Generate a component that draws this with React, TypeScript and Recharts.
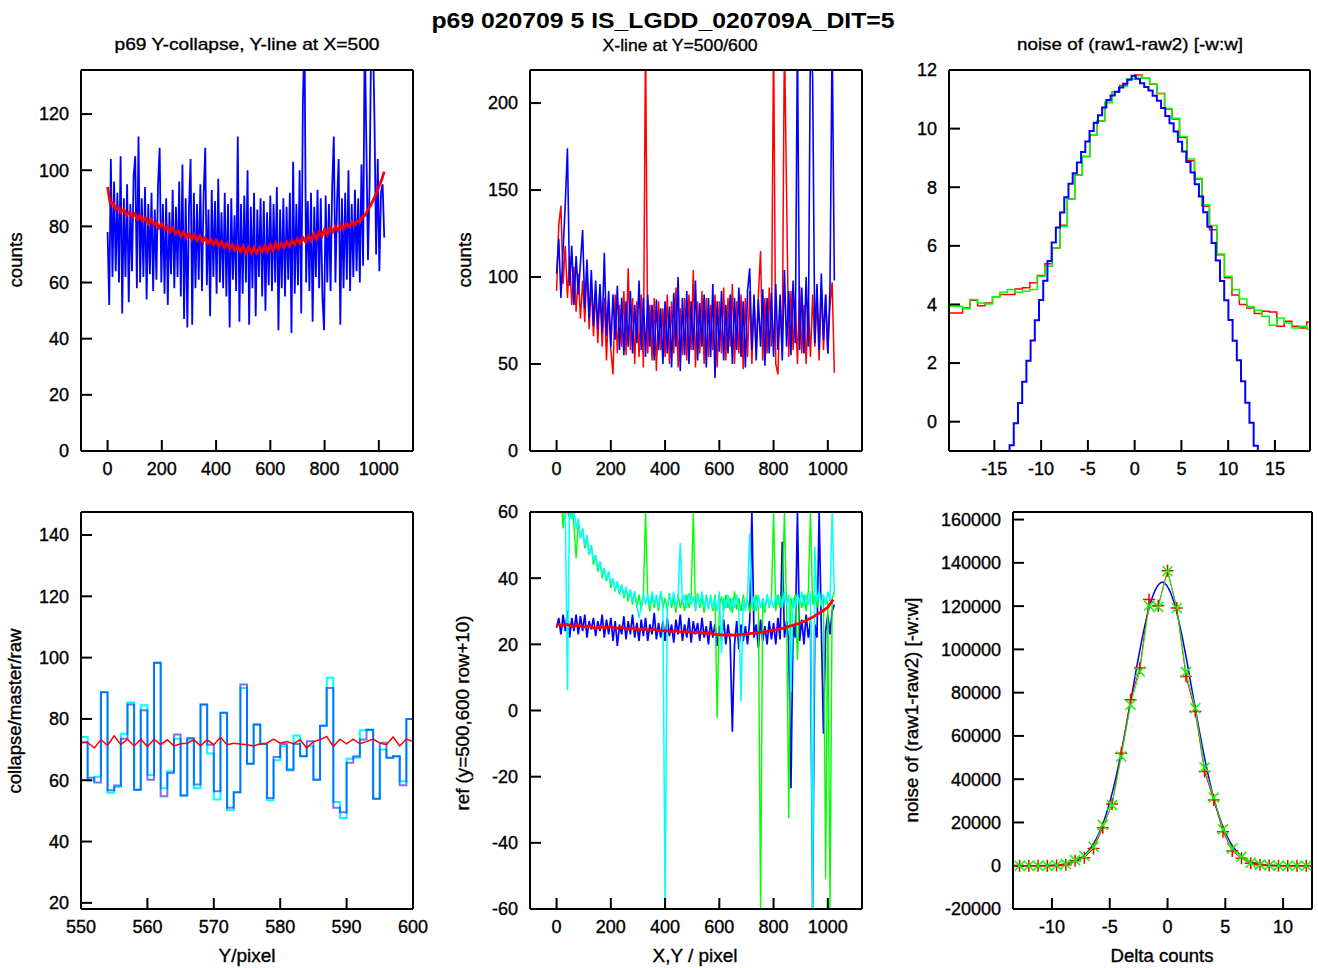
import React from "react";
import { LineChart, Line, XAxis, YAxis } from "recharts";

const FONT = '"Liberation Sans", Arial, Helvetica, sans-serif';
const RED = "#ff0000";
const GREEN = "#00ff00";
const BLUE = "#0000ff";
const CYAN = "#00ffff";

// ---- top left: Y-line at X=500 (blue, every 6th pixel) + collapse (red, every 10th) ----
const p1BlueStep = 6;
const p1Blue = [
  78, 52, 104, 62, 96, 64, 92, 60, 105, 49,
  90, 62, 95, 53, 88, 64, 98, 105, 58, 112,
  60, 90, 62, 94, 54, 88, 63, 92, 57, 86,
  61, 95, 108, 60, 88, 56, 90, 52, 85, 63,
  93, 58, 87, 62, 96, 55, 102, 47, 90, 44,
  86, 104, 45, 92, 58, 88, 61, 95, 57, 91,
  108, 59, 86, 48, 93, 62, 89, 56, 97, 60,
  85, 58, 92, 55, 88, 44, 90, 61, 84, 57,
  112, 46, 88, 56, 91, 60, 100, 45, 87, 58,
  92, 48, 86, 62, 90, 55, 89, 50, 85, 59,
  91, 57, 88, 60, 94, 43, 86, 58, 90, 55,
  87, 61, 92, 42, 103, 56, 88, 59, 100, 49,
  124, 150, 60, 89, 57, 92, 46, 87, 62, 93,
  58, 90, 55, 43, 91, 60, 88, 57, 94, 112,
  60, 89, 104, 45, 90, 58, 92, 61, 100, 57,
  88, 62, 93, 64, 90, 60, 102, 66, 150, 110,
  68, 95, 150, 150, 118, 70, 104, 64, 92, 95,
  76,
];
const p1RedStep = 10;
const p1Red = [
  94, 88, 88.5, 86, 87, 85, 86, 84, 85, 83.5,
  84.5, 82.5, 84, 82, 83, 81, 82.5, 80.5, 81.5, 79.5,
  81, 79, 80, 78, 79.5, 77.5, 78.5, 76.5, 78, 76,
  77.5, 75.5, 77, 75, 76.5, 74.5, 76, 74, 75.5, 73.5,
  75, 73, 74.5, 72.5, 74, 72, 73.5, 71.5, 73, 71,
  73, 70.5, 72.5, 70.5, 72.5, 70.5, 72.5, 71, 73, 71,
  73.5, 71.5, 74, 72, 74, 72.5, 74.5, 73, 75, 73.5,
  75.5, 74, 76, 74.5, 76.5, 75, 77.5, 75.5, 78, 76.5,
  79, 77, 79.5, 78, 80, 78.5, 80.5, 79, 81, 80,
  81.5, 80.5, 82, 81.5, 83.5, 84, 86, 87.5, 89.5, 91.5,
  94, 96.5, 99.5,
];

// ---- top middle: X-line at Y=500 (red) and Y=600 (blue), every 8th pixel ----
const p2Step = 8;
const p2Red = [
  92, 130, 141, 96, 118, 88, 112, 84, 106, 80,
  102, 76, 98, 74, 108, 70, 96, 66, 92, 62,
  94, 60, 88, 52, 86, 58, 44, 90, 56, 84,
  60, 92, 55, 105, 58, 88, 50, 86, 54, 90,
  48, 240, 56, 84, 52, 88, 46, 86, 58, 82,
  54, 90, 50, 86, 56, 94, 48, 82, 55, 88,
  52, 90, 58, 104, 48, 86, 56, 92, 50, 88,
  54, 84, 58, 90, 48, 86, 56, 94, 52, 88,
  60, 96, 50, 86, 56, 90, 47, 88, 54, 92,
  50, 86, 58, 90, 115, 52, 88, 56, 94, 60,
  240, 50, 44, 86, 58, 240, 147, 54, 92, 58,
  88, 50, 95, 56, 84, 50, 86, 54, 90, 60,
  88, 52, 94, 58, 90, 56, 84, 97, 45,
];
const p2Blue = [
  102, 122, 88, 116, 142, 174, 95, 118, 84, 112,
  90, 108, 127, 82, 110, 76, 104, 72, 98, 70,
  96, 68, 114, 66, 92, 60, 90, 64, 95, 58,
  88, 55, 86, 60, 92, 56, 84, 62, 98, 58,
  88, 54, 90, 60, 84, 52, 87, 58, 82, 50,
  86, 56, 83, 48, 91, 60, 100, 46, 88, 55,
  92, 50, 86, 58, 98, 52, 85, 60, 90, 48,
  88, 54, 96, 42, 86, 57, 92, 52, 84, 56,
  90, 50, 88, 58, 94, 54, 86, 48, 92, 105,
  58, 90, 52, 87, 60, 93, 49, 88, 56, 91,
  54, 96, 58, 90, 52, 104, 60, 92, 55, 98,
  62, 240, 58, 94, 56, 100, 60, 240, 215, 62,
  96, 58, 102, 64, 90, 56, 94, 240, 98,
];

// ---- top right: noise histograms ----
const p3BlueStart = -13.825;
const p3BlueWidth = 0.45;
const p3Blue = [
  -1.5, -0.8, -0.05, 0.64, 1.36, 2.08, 2.77, 3.46, 4.15, 4.81,
  5.48, 6.11, 6.63, 7.14, 7.66, 8.12, 8.48, 8.84, 9.2, 9.56,
  9.92, 10.2, 10.46, 10.72, 10.98, 11.13, 11.26, 11.4, 11.53, 11.67,
  11.8,
  11.7, 11.55, 11.42, 11.3, 11.12, 10.95, 10.7, 10.43, 10.18, 9.9,
  9.55, 9.22, 8.86, 8.5, 8.1, 7.68, 7.15, 6.65, 6.1, 5.5,
  4.8, 4.14, 3.47, 2.76, 2.1, 1.38, 0.65, -0.04, -0.82, -1.5,
  -1.5,
];
const p3BinStart = -20;
const p3BinWidth = 0.8;
const p3Red = [
  3.71, 3.71, 3.88, 4.14, 3.96, 4.05, 4.26, 4.34, 4.34, 4.53,
  4.57, 4.74, 4.99, 5.39, 5.93, 6.7, 7.6, 8.42, 9.05, 9.79,
  10.26, 10.89, 11.26, 11.47, 11.7, 11.83, 11.72, 11.51, 11.2, 10.67,
  10.33, 9.7, 8.9, 8.28, 7.35, 6.55, 5.7, 4.91, 4.32, 4.0,
  3.88, 3.69, 3.77, 3.74, 3.26, 3.43, 3.26, 3.2, 3.4, 3.4,
];
const p3Green = [
  3.94, 3.94, 3.85, 4.17, 4.05, 4.02, 4.26, 4.42, 4.51, 4.42,
  4.45, 4.51, 4.96, 5.3, 5.93, 6.67, 7.6, 8.42, 9.05, 9.79,
  10.26, 10.89, 11.26, 11.44, 11.7, 11.8, 11.72, 11.52, 11.2, 10.69,
  10.35, 9.73, 8.96, 8.31, 7.4, 6.69, 5.72, 4.96, 4.51, 4.19,
  3.92, 3.8, 3.6, 3.29, 3.54, 3.37, 3.2, 3.26, 3.15, 3.15,
];

// ---- bottom left: Y/pixel 550..600 (first point 549) ----
const p4Start = 549;
const p4Blue = [
  67,
  72.4, 60.8, 59.3, 88.7, 56.7, 58.3, 73.5, 84.7, 56.9, 82.8,
  60.2, 98.3, 54.8, 62.4, 74.9, 55.0, 73.8, 58.6, 84.7, 71.6,
  56.4, 82.0, 51.0, 56.1, 91.2, 65.4, 78.2, 71.8, 54.2, 67.6,
  71.8, 63.3, 71.8, 67.8, 72.7, 60.2, 77.8, 90.1, 51.0, 49.6,
  65.7, 67.8, 73.3, 76.5, 54.0, 72.2, 67.3, 67.8, 58.4, 80.0,
  80.0,
];
const p4Cyan = [
  67,
  74.1, 59.9, 61.1, 88.7, 55.9, 57.8, 75.2, 85.4, 56.9, 84.5,
  61.7, 98.3, 57.4, 62.9, 73.5, 55.0, 73.3, 57.4, 84.7, 68.7,
  53.7, 82.0, 50.2, 56.1, 90.1, 65.4, 78.2, 71.8, 53.5, 66.5,
  71.1, 63.7, 74.6, 67.8, 71.1, 60.2, 77.8, 93.4, 52.9, 47.7,
  67.0, 67.3, 76.3, 76.5, 54.0, 70.0, 67.3, 67.8, 59.7, 80.0,
  80.0,
];
const p4RedStart = 550;
const p4Red = [
  72.3, 72.3, 70.5, 73.2, 71.4, 74.5, 71.6, 73.4, 71.2, 73.4,
  71.0, 73.4, 71.6, 73.2, 71.2, 71.9, 72.1, 73.2, 71.2, 73.2,
  71.6, 74.0, 71.6, 72.1, 71.8, 71.6, 71.2, 71.9, 72.1, 73.4,
  72.1, 72.6, 71.9, 73.2, 70.5, 72.6, 73.2, 74.3, 71.0, 73.4,
  71.9, 73.4, 71.9, 72.6, 73.4, 72.1, 71.6, 74.1, 71.2, 73.4,
  72.6,
];

// ---- bottom middle: reference pixels ----
const p5Step = 8;
const p5Blue = [
  25, 28, 23, 29, 24, 30, 22, 28, 24, 29,
  23, 28.5, 24, 29, 22, 27, 24.5, 28, 22.5, 27,
  24, 29, 22, 27.5, 23, 28, 21, 27, 19.5, 26,
  23, 28.5, 21.5, 27, 23, 29, 22, 26.5, 21, 27.5,
  22.5, 28, 21, 26, 23, 29.5, 21.5, 26.5, 22, 27,
  21, 28, 22.5, 26, 20.5, 27.5, 23, 29, 21, 26,
  22, 28, 20.5, 27, 23, 26.5, 21, 28, 22, 25.5,
  20, 27, 22, 26, 19.5, 25.5, 21, 27.5, 20, 26,
  21, -6.4, 20, 27, 18.5, 26, 21, 25.5, 20, 27,
  60, 22, 26, 19, 27.5, 21, 25.5, 20, 27, 21.5,
  26.5, 20, 28, 21.5, 51, 22, 27, 20.5, -23.5, 26,
  22, 60, 21, 27.5, 20, 29, 22, 27, -60, 26,
  22, 60, 25, -7, 24, 29, 23, 30, 32,
];
const p5Green = [
  80, 72, 66, 55, 63, 60, 58, 62, 56, 46,
  57, 52, 55, 49, 52, 47, 50, 44, 47, 42,
  45, 40, 43, 39, 42, 37, 40, 36, 39, 35,
  38, 34, 37, 33, 36.5, 32, 36, 31, 35, 30.5,
  35, 60, 34, 30, 35, 31, 34.5, 30, 36, 31,
  34, 30, 35.5, 31, 34, 29.5, 35, 31, 34, 30,
  35, 31, 34, 60, 30, 35.5, 31, 34, 29.5, 35,
  31, 34, 30, 35, -2.3, 31, 34.5, 30, 35, 31,
  34, 29.5, 36, 30.5, 34, 30, 35, 31, 33.5, 29.5,
  34, 30, 35, 31, -60, 34, 29.5, 35, 31, 34,
  60, 30, 35, 31, 34, 60, 30, -32.6, 34, 31,
  35, 15.3, 34, 31, 35, 30, 36, 60, 32, 35,
  31, 36, 32, 35, -51, 33, -60, 34, 36,
];
const p5Cyan = [
  78, 68, 64, 60, 62, 6.1, 64, 58, 61, 55,
  58, 52, 55, 50, 53, 47, 50, 45, 47, 43,
  45, 41, 43, 39.5, 42, 38, 40, 36.5, 39, 35.5,
  38, 35, 37, 34, 36.5, 33, 36, 32, 28, 31.5,
  35.5, 32, 35, 31.5, 36, 32, 35, 31, 36, 32.5,
  -60, 31.5, 35, 32, 36, 31, 34.5, 50.6, 32, 35,
  31, 35.5, 32, 34.5, 30.5, 35, 32, 36, 31, 34.5,
  30.5, 35, 31, 34, 30, 36, 17.3, 34, 31, 35,
  30, 34, 31, 35, 30.5, 2.7, 34, 30, 35, 53.6,
  31, 34.5, 30, 35, 31, 34, 30.5, 35, 31.5, 34,
  31, 35, 32, 34.5, 31, 36, 32, 35, 5.7, 34,
  31, 35.5, 32, 36, 31.5, 35, 32, 36, -60, 49.6,
  33, 36, 31.5, 35, 32, 36, 33, 60, 35,
];
const p5RedStep = 20;
const p5Red = [
  26.2, 25.6, 26, 25.4, 25.8, 25.2, 25.6, 24.8, 25.3, 25,
  25.4, 24.8, 25.1, 24.6, 24.9, 24.3, 24.7, 24.2, 24.5, 24,
  24.2, 23.8, 24.1, 23.6, 23.9, 23.5, 23.7, 23.3, 23.5, 23,
  22.9, 22.8, 22.9, 22.7, 23, 23.1, 23.3, 23.5, 23.7, 24,
  24.3, 24.6, 25, 25.5, 26, 26.5, 27.2, 28, 29, 30,
  31.2, 33.5,
];

// ---- bottom right: histogram of raw1-raw2 with gaussian fit ----
const p6X = [
  -12.8, -12, -11.2, -10.4, -9.6, -8.8, -8, -7.2, -6.4, -5.6, -4.8, -4, -3.2, -2.4, -1.6, -0.8,
  0, 0.8, 1.6, 2.4, 3.2, 4, 4.8, 5.6, 6.4, 7.2, 8, 8.8, 9.6, 10.4, 11.2, 12,
];
const p6Red = [
  0, 0, 0, 0, 100, 500, 2300, 3700, 8000, 17600, 28500, 52000, 76700, 91400, 123000, 120200,
  136400, 119100, 87500, 71300, 43500, 30400, 15700, 6800, 3400, 1100, 400, 100, 0, 0, 0, 0,
];
const p6Green = [
  0, 0, 0, 0, 200, 800, 2600, 4500, 8800, 18800, 28000, 50500, 74400, 89800, 120200, 119600,
  136100, 119100, 89500, 72800, 45400, 31500, 16800, 8000, 4200, 1400, 500, 200, 0, 0, 0, 0,
];
const p6FitX = [
  -13.4, -12.45, -11.45, -10.45, -9.45, -8.95, -8.45, -7.95, -7.45, -6.95, -6.45, -5.95, -5.45,
  -4.95, -4.45, -3.95, -3.45, -2.95, -2.45, -1.95, -1.45, -0.95, -0.45, 0.05, 0.55, 1.05, 1.55,
  2.05, 2.55, 3.05, 3.55, 4.05, 4.55, 5.05, 5.55, 6.05, 6.55, 7.05, 7.55, 8.05, 8.55, 9.55,
  10.55, 11.55, 12.5,
];
const p6Fit = [
  0, 0, 20, 95, 375, 710, 1280, 2240, 3800, 6200, 9700, 14700, 21500,
  30300, 41200, 54000, 68300, 83300, 98100, 111300, 121900, 128600, 131000, 128600, 121900, 111300,
  98100, 83300, 68300, 54000, 41200, 30300, 21500, 14700, 9700, 6200, 3800, 2240, 1280, 710, 375,
  95, 20, 0, 0,
];

const pixTicks = [0, 200, 400, 600, 800, 1000];

const grid = (ys: number[], step: number, start = 0) =>
  ys.map((y, i) => ({ x: start + i * step, y }));
const pairs = (xs: number[], ys: number[]) => xs.map((x, i) => ({ x, y: ys[i] }));

const PAD_L = 100;
const PAD_T = 10;
const PAD_R = 30;
const PAD_B = 50;
const TICK = -11;
const axisStyle = { stroke: "#000", strokeWidth: 2 };
const tickFont = { fill: "#000", fontSize: 18, fontFamily: FONT, stroke: "#000", strokeWidth: 0.35 };

type PanelProps = {
  left: number;
  top: number;
  width: number;
  height: number;
  xDomain: [number, number];
  yDomain: [number, number];
  xTicks: number[];
  yTicks: number[];
  children: React.ReactNode;
};

function Panel({ left, top, width, height, xDomain, yDomain, xTicks, yTicks, children }: PanelProps) {
  return (
    <div style={{ position: "absolute", left: left - PAD_L, top: top - PAD_T }}>
      <LineChart
        width={width + PAD_L + PAD_R}
        height={height + PAD_T + PAD_B}
        margin={{ top: PAD_T - 1, right: PAD_R - 1, bottom: 0, left: 0 }}
      >
        <XAxis
          xAxisId="b"
          type="number"
          dataKey="x"
          domain={xDomain}
          ticks={xTicks}
          interval={0}
          allowDataOverflow
          height={PAD_B}
          tickSize={TICK}
          tickMargin={22}
          axisLine={axisStyle}
          tickLine={axisStyle}
          tick={tickFont}
        />
        <XAxis
          xAxisId="t"
          orientation="top"
          type="number"
          dataKey="x"
          domain={xDomain}
          ticks={xTicks}
          interval={0}
          allowDataOverflow
          height={1}
          tickSize={TICK}
          axisLine={axisStyle}
          tickLine={axisStyle}
          tick={false}
        />
        <YAxis
          yAxisId="l"
          type="number"
          domain={yDomain}
          ticks={yTicks}
          interval={0}
          allowDataOverflow
          width={PAD_L}
          tickSize={TICK}
          tickMargin={23}
          axisLine={axisStyle}
          tickLine={axisStyle}
          tick={tickFont}
        />
        <YAxis
          yAxisId="r"
          orientation="right"
          type="number"
          domain={yDomain}
          ticks={yTicks}
          interval={0}
          allowDataOverflow
          width={1}
          tickSize={TICK}
          axisLine={axisStyle}
          tickLine={axisStyle}
          tick={false}
        />
        {children}
      </LineChart>
    </div>
  );
}

function series(data: { x: number; y: number }[], color: string, width = 1, type: any = "linear", extra: any = {}) {
  return (
    <Line
      data={data}
      dataKey="y"
      xAxisId="b"
      yAxisId="l"
      type={type}
      stroke={color}
      strokeWidth={width}
      dot={false}
      activeDot={false}
      isAnimationActive={false}
      {...extra}
    />
  );
}

const plusDot = (p: any) => (
  <path
    key={`plus-${p.index}`}
    d={`M${p.cx - 6},${p.cy}h12M${p.cx},${p.cy - 6}v12`}
    stroke={RED}
    strokeWidth={1.5}
    fill="none"
  />
);
const crossDot = (p: any) => (
  <path
    key={`cross-${p.index}`}
    d={`M${p.cx - 5},${p.cy - 5}l10,10M${p.cx - 5},${p.cy + 5}l10,-10`}
    stroke={GREEN}
    strokeWidth={1.5}
    fill="none"
  />
);

const labelStyle = { fontFamily: FONT, fill: "#000", stroke: "#000", strokeWidth: 0.35 };

export default function App() {
  return (
    <div style={{ position: "absolute", left: 0, top: 0, width: 1318, height: 968, background: "#fff", overflow: "hidden" }}>
      {/* top left */}
      <Panel left={81} top={70} width={332} height={381} xDomain={[-98, 1126]} yDomain={[0, 135.7]}
        xTicks={pixTicks} yTicks={[0, 20, 40, 60, 80, 100, 120]}>
        {series(grid(p1Blue, p1BlueStep), BLUE, 1.8)}
        {series(grid(p1Red, p1RedStep), RED, 2.8)}
      </Panel>

      {/* top middle */}
      <Panel left={530} top={70} width={332} height={381} xDomain={[-98, 1126]} yDomain={[0, 219]}
        xTicks={pixTicks} yTicks={[0, 50, 100, 150, 200]}>
        {series(grid(p2Red, p2Step), RED, 1.5)}
        {series(grid(p2Blue, p2Step), BLUE, 1.6)}
      </Panel>

      {/* top right */}
      <Panel left={949} top={70} width={361} height={381} xDomain={[-19.85, 18.75]} yDomain={[-1, 12]}
        xTicks={[-15, -10, -5, 0, 5, 10, 15]} yTicks={[0, 2, 4, 6, 8, 10, 12]}>
        {series(grid(p3Red, p3BinWidth, p3BinStart), RED, 1.5, "stepAfter")}
        {series(grid(p3Green, p3BinWidth, p3BinStart), GREEN, 1.5, "stepAfter")}
        {series(grid(p3Blue, p3BlueWidth, p3BlueStart), BLUE, 2, "stepAfter")}
      </Panel>

      {/* bottom left */}
      <Panel left={81} top={512} width={332} height={397} xDomain={[550, 600]} yDomain={[18, 147.5]}
        xTicks={[550, 560, 570, 580, 590, 600]} yTicks={[20, 40, 60, 80, 100, 120, 140]}>
        {series(grid(p4Cyan, 1, p4Start), CYAN, 2, "stepAfter")}
        {series(grid(p4Blue, 1, p4Start), BLUE, 2, "stepAfter", { strokeOpacity: 0.55 })}
        {series(grid(p4Red, 1, p4RedStart), RED, 1.5)}
      </Panel>

      {/* bottom middle */}
      <Panel left={530} top={512} width={332} height={397} xDomain={[-98, 1126]} yDomain={[-60, 60]}
        xTicks={pixTicks} yTicks={[-60, -40, -20, 0, 20, 40, 60]}>
        {series(grid(p5Blue, p5Step), BLUE, 1.7)}
        {series(grid(p5Green, p5Step), GREEN, 1.4)}
        {series(grid(p5Cyan, p5Step), CYAN, 1.5)}
        {series(grid(p5Red, p5RedStep), RED, 2.8)}
      </Panel>

      {/* bottom right */}
      <Panel left={1013} top={512} width={299} height={397} xDomain={[-13.37, 12.5]} yDomain={[-20000, 163500]}
        xTicks={[-10, -5, 0, 5, 10]}
        yTicks={[-20000, 0, 20000, 40000, 60000, 80000, 100000, 120000, 140000, 160000]}>
        {series(pairs(p6FitX, p6Fit), BLUE, 1.5, "monotone")}
        {series(pairs(p6X, p6Red), RED, 1, "linear", { dot: plusDot })}
        {series(pairs(p6X, p6Green), GREEN, 1, "linear", { dot: crossDot })}
      </Panel>

      <svg width={1318} height={968} style={{ position: "absolute", left: 0, top: 0, pointerEvents: "none" }}>
        <text x={663} y={28} fontSize={22} fontWeight="bold" textAnchor="middle" textLength={463} lengthAdjust="spacingAndGlyphs" style={{ fontFamily: FONT, fill: "#000" }}>
          p69 020709 5 IS_LGDD_020709A_DIT=5
        </text>
        <text x={247} y={50} fontSize={17} textAnchor="middle" textLength={265} lengthAdjust="spacingAndGlyphs" style={labelStyle}>
          p69 Y-collapse, Y-line at X=500
        </text>
        <text x={680} y={51} fontSize={17} textAnchor="middle" textLength={155} lengthAdjust="spacingAndGlyphs" style={labelStyle}>
          X-line at Y=500/600
        </text>
        <text x={1130} y={50} fontSize={17} textAnchor="middle" textLength={226} lengthAdjust="spacingAndGlyphs" style={labelStyle}>
          noise of (raw1-raw2) [-w:w]
        </text>

        <text transform="translate(22,260) rotate(-90)" fontSize={18} textAnchor="middle" textLength={55} lengthAdjust="spacingAndGlyphs" style={labelStyle}>
          counts
        </text>
        <text transform="translate(471,260) rotate(-90)" fontSize={18} textAnchor="middle" textLength={55} lengthAdjust="spacingAndGlyphs" style={labelStyle}>
          counts
        </text>
        <text transform="translate(21,711) rotate(-90)" fontSize={18} textAnchor="middle" textLength={165} lengthAdjust="spacingAndGlyphs" style={labelStyle}>
          collapse/master/raw
        </text>
        <text transform="translate(469,713) rotate(-90)" fontSize={18} textAnchor="middle" textLength={195} lengthAdjust="spacingAndGlyphs" style={labelStyle}>
          ref (y=500,600 row+10)
        </text>
        <text transform="translate(918,710) rotate(-90)" fontSize={18} textAnchor="middle" textLength={225} lengthAdjust="spacingAndGlyphs" style={labelStyle}>
          noise of (raw1-raw2) [-w:w]
        </text>

        <text x={247} y={962} fontSize={18} textAnchor="middle" textLength={57} lengthAdjust="spacingAndGlyphs" style={labelStyle}>
          Y/pixel
        </text>
        <text x={695} y={962} fontSize={18} textAnchor="middle" textLength={85} lengthAdjust="spacingAndGlyphs" style={labelStyle}>
          X,Y / pixel
        </text>
        <text x={1162} y={962} fontSize={18} textAnchor="middle" textLength={103} lengthAdjust="spacingAndGlyphs" style={labelStyle}>
          Delta counts
        </text>
      </svg>
    </div>
  );
}
